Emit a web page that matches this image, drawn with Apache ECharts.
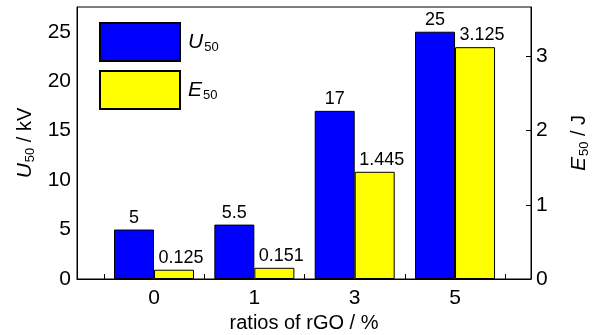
<!DOCTYPE html>
<html>
<head>
<meta charset="utf-8">
<script src="https://cdn.jsdelivr.net/npm/echarts@6/dist/echarts.min.js"></script>
<style>
  html, body { margin: 0; padding: 0; background: #fff; }
  #chart { width: 592px; height: 335px; }
</style>
</head>
<body>
<div id="chart"></div>
<script>
// rGO ratio groups and measured values
var categories = ['0', '1', '3', '5'];
var u50 = [5, 5.5, 17, 25];          // kV
var e50 = [0.125, 0.151, 1.445, 3.125]; // J

var FONT = '"Liberation Sans", Arial, sans-serif';
var leftMax = 27.5;
var rightMax = leftMax / 7.5;

function pairs(arr) {
  return arr.map(function (v, i) { return [i, v]; });
}

var nameRich = {
  i: { fontFamily: FONT, fontStyle: 'italic', fontSize: 21, color: '#000' },
  s: { fontFamily: FONT, fontSize: 13, color: '#000', verticalAlign: 'bottom', padding: [10, 0, 0, 1] },
  t: { fontFamily: FONT, fontSize: 20, color: '#000' }
};

var chart = echarts.init(document.getElementById('chart'));
chart.setOption({
  animation: false,
  textStyle: { fontFamily: FONT, color: '#000' },
  grid: {
    left: 77, right: 61, top: 7, bottom: 56,
    containLabel: false, outerBoundsMode: 'none',
    show: true, borderColor: '#000', borderWidth: 1, backgroundColor: 'transparent'
  },
  legend: {
    orient: 'vertical',
    left: 99, top: 22, padding: 0,
    itemWidth: 80, itemHeight: 38, itemGap: 8,
    icon: 'rect',
    formatter: function (name) { return name === 'U50' ? '{i|U}{s|50}' : '{i|E}{s|50}'; },
    textStyle: {
      padding: [0, 0, 0, 3],
      rich: {
        i: { fontFamily: FONT, fontStyle: 'italic', fontSize: 21, color: '#000' },
        s: { fontFamily: FONT, fontSize: 13, color: '#000', verticalAlign: 'bottom', padding: [10, 0, 0, 1] }
      }
    },
    data: ['U50', 'E50']
  },
  xAxis: {
    type: 'value',
    min: -0.7675, max: 3.757,
    name: 'ratios of rGO / %',
    nameLocation: 'middle', nameGap: 34,
    nameTextStyle: { fontFamily: FONT, fontSize: 20, color: '#000' },
    axisLine: { onZero: false, lineStyle: { color: '#000', width: 1 } },
    axisTick: { inside: true, length: 5, lineStyle: { color: '#000' }, customValues: [-0.5, 0.5, 1.5, 2.5, 3.5] },
    axisLabel: {
      customValues: [0, 1, 2, 3],
      margin: 9, fontSize: 21, color: '#000', fontFamily: FONT,
      formatter: function (v) { return categories[Math.round(v)]; }
    },
    splitLine: { show: false }
  },
  yAxis: [
    {
      type: 'value', min: 0, max: leftMax, interval: 5,
      position: 'left',
      name: '{i|U}{s|50}{t| / kV}',
      nameLocation: 'middle', nameGap: 38,
      nameTextStyle: { rich: nameRich },
      axisLine: { show: true, onZero: false, lineStyle: { color: '#000', width: 1 } },
      axisTick: { show: false },
      axisLabel: { customValues: [0, 5, 10, 15, 20, 25], margin: 6, fontSize: 21, color: '#000', fontFamily: FONT },
      splitLine: { show: false }
    },
    {
      type: 'value', min: 0, max: rightMax, interval: 1,
      position: 'right',
      name: '{i|E}{s|50}{t| / J}',
      nameLocation: 'middle', nameGap: 37,
      nameRotate: 90,
      nameTextStyle: { rich: nameRich },
      axisLine: { show: true, onZero: false, lineStyle: { color: '#000', width: 1 } },
      axisTick: { show: true, inside: true, length: 5, lineStyle: { color: '#000' }, customValues: [1, 2, 3] },
      axisLabel: { customValues: [0, 1, 2, 3], margin: 5, fontSize: 21, color: '#000', fontFamily: FONT },
      splitLine: { show: false }
    }
  ],
  series: [
    {
      name: 'U50', type: 'bar', yAxisIndex: 0,
      barWidth: 40, barGap: '0%',
      itemStyle: { color: '#0000FF', borderColor: '#000', borderWidth: 1 },
      label: {
        show: true, position: 'top', distance: 3,
        fontSize: 18, color: '#000', fontFamily: FONT,
        formatter: function (p) { return String(p.value[1]); }
      },
      data: pairs(u50)
    },
    {
      name: 'E50', type: 'bar', yAxisIndex: 1,
      barWidth: 40, barGap: '0%',
      itemStyle: { color: '#FFFF00', borderColor: '#000', borderWidth: 1 },
      label: {
        show: true, position: 'top', distance: 3, offset: [7, 0],
        fontSize: 18, color: '#000', fontFamily: FONT,
        formatter: function (p) { return String(p.value[1]); }
      },
      data: pairs(e50)
    }
  ]
});
</script>
</body>
</html>
